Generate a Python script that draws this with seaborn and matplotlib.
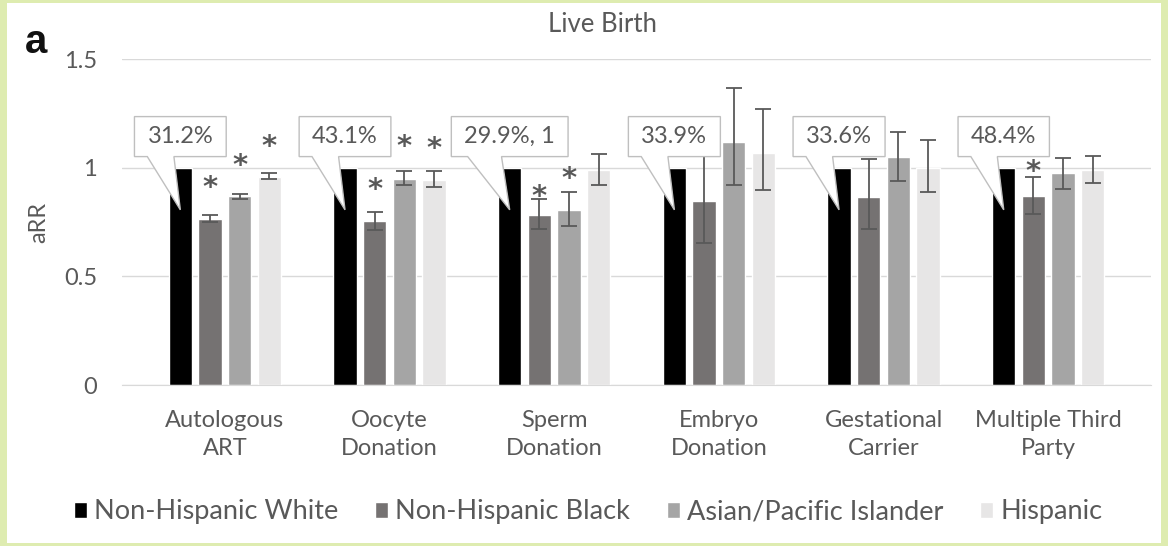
import numpy as np
import pandas as pd
import matplotlib
matplotlib.use("Agg")
import matplotlib.pyplot as plt
from matplotlib.patches import Rectangle, Polygon
import seaborn as sns

# data
categories = ["Autologous\nART", "Oocyte\nDonation", "Sperm\nDonation",
              "Embryo\nDonation", "Gestational\nCarrier", "Multiple Third\nParty"]
groups = ["Non-Hispanic White", "Non-Hispanic Black", "Asian/Pacific Islander", "Hispanic"]
colors = ["#000000", "#767171", "#a5a5a5", "#e7e6e6"]

white = [1.0, 1.0, 1.0, 1.0, 1.0, 1.0]
black = [0.765, 0.753, 0.783, 0.845, 0.863, 0.871]
black_lo = [0.750, 0.714, 0.717, 0.653, 0.717, 0.787]
black_hi = [0.780, 0.796, 0.857, 1.090, 1.040, 0.957]
asian = [0.868, 0.949, 0.806, 1.118, 1.047, 0.975]
asian_lo = [0.857, 0.922, 0.733, 0.922, 0.940, 0.903]
asian_hi = [0.879, 0.983, 0.886, 1.367, 1.163, 1.044]
hisp = [0.957, 0.945, 0.988, 1.067, 1.000, 0.988]
hisp_lo = [0.948, 0.911, 0.920, 0.895, 0.886, 0.931]
hisp_hi = [0.975, 0.986, 1.064, 1.270, 1.126, 1.055]

# callout labels on the reference bars and asterisk heights
callouts = ["31.2%", "43.1%", "29.9%, 1", "33.9%", "33.6%", "48.4%"]
star_black = [0.95, 0.94, 0.91, np.nan, np.nan, 1.024]
star_asian = [1.05, 1.14, 0.99, np.nan, np.nan, np.nan]
star_hisp = [1.14, 1.13, np.nan, np.nan, np.nan, np.nan]

df = pd.DataFrame({
    "category": categories * 4,
    "group": np.repeat(groups, len(categories)),
    "value": white + black + asian + hisp,
})

sns.set_style("white")
plt.rcParams["font.family"] = ["Lato", "DejaVu Sans"]
grey = "#595959"
fs = 17

W, H = 1168, 546
fig = plt.figure(figsize=(W / 100, H / 100), dpi=100)
fig.patch.set_facecolor("#deecb0")
fig.add_artist(Rectangle((7 / W, 3 / H), (1161 - 7) / W, (543 - 3) / H,
                         transform=fig.transFigure, fc="white", ec="none", zorder=-10))

ax = fig.add_axes([122 / W, 1 - 385 / H, (1151 - 122) / W, (385 - 59) / H])
ax.set_facecolor("none")

sns.barplot(data=df, x="category", y="value", hue="group", palette=colors,
            width=0.72, gap=0.22, errorbar=None, ax=ax)
handles, labels = ax.get_legend_handles_labels()
ax.get_legend().remove()

ax.set_ylim(0, 1.5)
ax.set_yticks([0, 0.5, 1, 1.5])
ax.set_yticklabels(["0", "0.5", "1", "1.5"])
ax.set_xlabel("")
ax.set_ylabel("")
ax.yaxis.grid(True, color="#d9d9d9", lw=1.0)
ax.set_axisbelow(True)
for s in ["left", "right", "top"]:
    ax.spines[s].set_visible(False)
ax.spines["bottom"].set_color("#d9d9d9")
ax.tick_params(axis="both", length=0, labelsize=fs, colors=grey)
ax.tick_params(axis="y", pad=18)
ax.tick_params(axis="x", pad=18)
for t in ax.get_xticklabels():
    t.set_linespacing(1.4)

# error bars (white is the reference group)
series = [(black, black_lo, black_hi), (asian, asian_lo, asian_hi), (hisp, hisp_lo, hisp_hi)]
for i, (v, lo, hi) in enumerate(series, start=1):
    xs = [b.get_x() + b.get_width() / 2 for b in ax.containers[i]]
    v, lo, hi = np.array(v), np.array(lo), np.array(hi)
    ax.errorbar(xs, v, yerr=[v - lo, hi - v], fmt="none", ecolor=grey,
                elinewidth=1.3, capsize=6, capthick=1.3, zorder=3)

# asterisks, glyph centred on the given height
star_fs = 21
for i, stars in zip([1, 2, 3], [star_black, star_asian, star_hisp]):
    for b, y in zip(ax.containers[i], stars):
        if not np.isnan(y):
            ax.annotate("*", (b.get_x() + b.get_width() / 2, y),
                        xytext=(0, -0.6 * star_fs), textcoords="offset points",
                        ha="center", va="baseline", fontsize=star_fs,
                        fontweight="bold", color=grey, zorder=4,
                        family="DejaVu Sans")

# callout boxes pointing at the white bars
fig.canvas.draw()
renderer = fig.canvas.get_renderer()
inv = ax.transData.inverted()
box_y, tip_y = 1.143, 0.806
for b, lab in zip(ax.containers[0], callouts):
    cx = b.get_x() + b.get_width() / 2
    t = ax.text(cx, box_y, lab, ha="center", va="center", fontsize=fs,
                color=grey, zorder=7)
    bb = t.get_window_extent(renderer)
    px, py = ax.transData.transform((cx, box_y))
    tx, ty = ax.transData.transform((cx, tip_y))
    w = bb.width + 26
    h = 40
    x0, x1 = px - w / 2, px + w / 2
    y0, y1 = py - h / 2, py + h / 2
    pts = [(x0, y1), (x1, y1), (x1, y0), (x0 + 0.43 * w, y0), (tx, ty),
           (x0 + 0.14 * w, y0), (x0, y0)]
    ax.add_patch(Polygon(inv.transform(pts), closed=True, fc="white",
                         ec="#bfbfbf", lw=1.0, zorder=6, clip_on=False))

fig.text(603 / W, 1 - 25 / H, "Live Birth", ha="center", va="center",
         fontsize=18.5, color=grey)
fig.text(25 / W, 1 - 53 / H, "a", ha="left", va="baseline", fontsize=29,
         fontweight="bold", color="#111111", family="Liberation Sans")
fig.text(38.5 / W, 1 - 222 / H, "aRR", rotation=90, ha="center", va="center",
         fontsize=fs, color=grey)

fig.legend(handles, labels, loc="center", bbox_to_anchor=(588 / W, 1 - 512 / H),
           ncol=4, frameon=False, fontsize=19.5, handlelength=0.5, handleheight=0.5,
           handletextpad=0.25, columnspacing=1.35, labelcolor=grey)

fig.savefig("out.png", dpi=100, facecolor=fig.get_facecolor())
